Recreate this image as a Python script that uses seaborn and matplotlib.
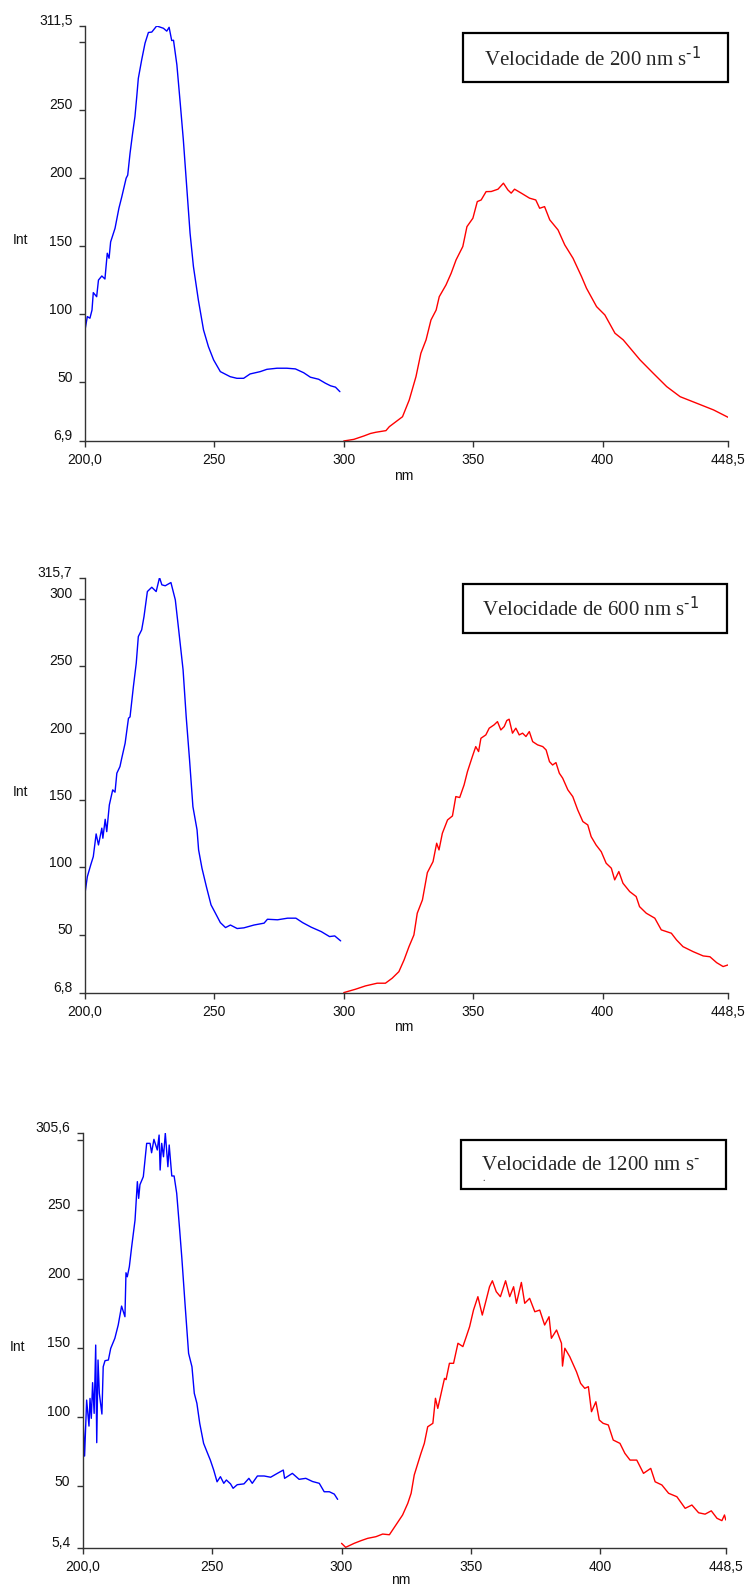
import matplotlib
matplotlib.use("Agg")
import matplotlib.pyplot as plt
import matplotlib.transforms as mtransforms
from matplotlib.patches import Rectangle
import pandas as pd
import seaborn as sns

# ---------------------------
# Data
# ---------------------------
# Panel 1 - 200 nm/s
blue_nm_1 = [200.0, 200.9, 201.9, 202.7, 203.2, 204.5, 205.2, 206.5, 207.7, 208.6, 209.3, 209.9,
             211.6, 213.1, 214.2, 215.9, 216.5, 217.4, 218.4, 219.3, 220.0, 220.6, 221.9, 223.2,
             224.5, 225.8, 227.7, 230.3, 231.6, 232.5, 233.5, 234.2, 235.5, 236.8, 238.0, 239.3,
             240.6, 241.9, 243.8, 245.8, 247.7, 249.7, 252.3, 256.1, 258.7, 261.3, 263.8, 267.7,
             270.3, 274.2, 278.0, 281.3, 284.5, 287.1, 290.3, 292.9, 294.9, 296.8, 298.5]
blue_int_1 = [88.4, 98.2, 97.0, 103.0, 115.8, 112.8, 125.0, 128.0, 125.8, 144.7, 141.0, 153.0,
              163.0, 177.7, 186.0, 199.8, 202.0, 218.0, 232.8, 245.0, 259.7, 273.0, 286.6, 298.9,
              306.7, 307.0, 311.5, 309.8, 307.7, 310.5, 300.8, 301.0, 283.0, 254.8, 227.9, 193.6,
              159.4, 134.9, 110.4, 88.4, 76.1, 66.4, 57.8, 54.1, 52.9, 52.9, 56.1, 57.8,
              59.5, 60.3, 60.3, 59.8, 57.0, 53.7, 52.2, 49.3, 47.4, 46.4, 43.1]
red_nm_1 = [300.0, 303.9, 307.8, 310.3, 312.4, 316.3, 317.6, 322.7, 325.3, 327.9, 329.8, 331.8,
            333.7, 335.7, 336.9, 339.5, 341.5, 343.4, 346.0, 347.6, 349.9, 351.6, 353.1, 355.0,
            357.0, 359.6, 361.7, 363.4, 364.7, 366.0, 368.6, 371.8, 374.2, 375.7, 377.6, 379.6,
            382.8, 385.4, 388.6, 391.9, 393.8, 397.7, 400.9, 404.8, 408.0, 414.5, 419.6, 424.8,
            430.0, 436.4, 442.9, 448.5]
red_int_1 = [6.9, 8.1, 10.6, 12.4, 13.3, 14.5, 17.4, 24.7, 37.0, 54.1, 71.3, 81.1,
             95.7, 103.0, 112.8, 121.4, 130.0, 139.8, 149.6, 164.2, 170.4, 182.6, 183.8, 189.9,
             190.0, 191.7, 196.1, 191.2, 188.8, 191.7, 188.8, 185.1, 183.8, 177.7, 178.9, 169.2,
             161.8, 150.8, 141.0, 127.5, 119.0, 105.5, 99.4, 86.0, 81.1, 66.4, 56.6, 46.8,
             39.4, 34.6, 29.7, 24.3]

# Panel 2 - 600 nm/s
blue_nm_2 = [200.0, 200.9, 202.2, 203.2, 204.3, 205.2, 206.5, 206.9, 207.8, 208.4, 209.4, 210.7,
             211.6, 212.3, 213.5, 214.2, 215.5, 216.8, 217.4, 218.7, 219.8, 220.6, 221.9, 222.8,
             224.1, 225.8, 227.5, 228.8, 229.7, 231.0, 233.2, 234.9, 236.2, 237.9, 239.1, 240.4,
             241.7, 243.3, 243.9, 245.2, 246.9, 248.7, 250.4, 252.3, 254.3, 256.2, 258.8, 261.4,
             265.3, 269.2, 270.5, 274.4, 278.3, 281.5, 284.1, 287.4, 291.3, 294.5, 296.5, 298.8]
blue_int_2 = [80.8, 93.1, 101.8, 108.0, 124.9, 116.7, 129.2, 121.7, 135.8, 126.6, 146.5, 157.7,
              156.0, 170.1, 175.0, 181.3, 192.4, 211.0, 212.0, 234.6, 252.0, 271.8, 276.8, 286.7,
              305.3, 308.5, 305.3, 315.7, 310.3, 309.6, 312.0, 299.1, 276.8, 247.0, 212.2, 180.0,
              145.2, 127.9, 113.0, 99.4, 85.7, 72.1, 65.9, 58.9, 55.2, 57.1, 54.5, 55.0,
              57.1, 58.5, 61.4, 61.0, 62.2, 62.2, 58.9, 55.5, 52.2, 48.5, 49.0, 45.3]
red_nm_2 = [300.0, 304.5, 308.4, 312.9, 316.1, 318.7, 321.3, 323.3, 325.2, 327.1, 328.4, 330.4,
            332.3, 334.5, 335.9, 336.8, 338.1, 340.1, 342.0, 343.3, 344.8, 346.5, 347.8, 349.7,
            351.0, 352.1, 353.0, 354.9, 356.2, 358.1, 359.4, 360.7, 362.0, 363.0, 363.9, 365.2,
            366.5, 367.8, 369.1, 370.4, 371.7, 373.0, 374.9, 376.9, 378.2, 379.5, 380.7, 382.0,
            383.3, 384.6, 386.6, 388.5, 390.4, 392.4, 394.3, 395.6, 397.5, 399.5, 401.4, 403.4,
            404.7, 406.3, 407.9, 410.5, 413.0, 414.3, 416.9, 420.2, 422.7, 426.6, 428.6, 431.1,
            435.0, 438.9, 441.5, 444.1, 446.6, 448.5]
red_int_2 = [6.8, 9.3, 11.8, 13.8, 13.8, 17.5, 22.4, 31.1, 41.0, 49.7, 65.9, 75.8,
             96.1, 104.3, 118.0, 113.0, 125.4, 135.3, 138.3, 152.7, 152.0, 161.4, 171.3, 182.5,
             189.9, 186.2, 196.1, 198.6, 203.6, 206.1, 208.5, 202.3, 204.8, 209.3, 210.3, 199.9,
             203.6, 198.6, 199.9, 197.4, 201.1, 193.6, 191.2, 189.9, 187.4, 178.7, 176.2, 178.0,
             170.1, 166.4, 157.7, 152.7, 142.8, 134.1, 131.6, 122.9, 116.7, 111.7, 103.1, 99.4,
             90.7, 96.9, 88.2, 82.0, 78.3, 70.8, 65.9, 62.2, 53.5, 51.0, 46.0, 41.0,
             37.3, 34.1, 33.5, 29.1, 26.2, 27.4]

# Panel 3 - 1200 nm/s
blue_nm_3 = [200.0, 200.2, 200.7, 201.5, 202.4, 202.8, 203.3, 203.8, 204.4, 205.0, 205.4, 205.9,
             206.4, 207.4, 207.9, 208.6, 209.9, 210.8, 212.4, 213.7, 215.0, 216.3, 216.7, 217.2,
             218.0, 218.9, 220.2, 221.1, 221.6, 222.1, 223.4, 224.7, 226.0, 226.6, 227.5, 228.8,
             229.5, 229.9, 230.5, 231.2, 231.9, 232.9, 233.4, 234.4, 235.3, 236.3, 237.4, 238.3,
             239.6, 240.9, 242.2, 243.1, 244.1, 245.2, 246.7, 248.0, 249.3, 250.6, 251.9, 253.2,
             254.5, 255.5, 257.1, 258.1, 259.7, 262.3, 264.2, 265.5, 267.5, 270.1, 272.6, 275.2,
             277.5, 278.0, 281.0, 283.6, 286.2, 288.8, 291.4, 293.3, 295.3, 297.2, 298.5]
blue_int_3 = [92.9, 95.0, 71.7, 112.2, 93.4, 113.4, 99.0, 124.8, 102.6, 152.0, 81.4, 141.2,
              117.1, 102.1, 136.3, 140.7, 141.2, 149.6, 156.9, 166.5, 180.2, 172.5, 204.3, 201.4,
              208.7, 223.1, 242.4, 270.2, 258.1, 268.0, 273.8, 297.9, 297.9, 291.1, 300.8, 293.1,
              303.9, 278.6, 297.9, 288.2, 305.2, 281.0, 296.7, 274.3, 274.3, 261.8, 236.4, 214.7,
              179.7, 146.0, 136.3, 117.1, 109.9, 95.4, 80.9, 74.8, 68.8, 61.6, 53.1, 56.8,
              52.0, 54.4, 51.6, 48.4, 51.0, 51.6, 55.6, 52.0, 57.3, 57.3, 56.4, 59.2,
              61.6, 55.6, 59.2, 54.9, 55.6, 53.3, 52.0, 45.9, 45.9, 44.2, 40.4]
red_nm_3 = [300.0, 301.6, 304.9, 307.5, 310.1, 313.3, 315.9, 318.5, 321.0, 323.6, 325.6, 326.9,
            328.1, 329.5, 330.7, 332.0, 333.3, 335.3, 336.3, 337.2, 338.5, 339.8, 340.4, 341.7,
            343.3, 345.0, 346.9, 348.2, 349.5, 351.0, 352.7, 354.4, 355.9, 357.2, 358.3, 359.8,
            361.4, 363.4, 365.0, 366.5, 367.6, 369.5, 370.8, 372.7, 374.7, 376.6, 378.5, 380.2,
            381.1, 383.1, 385.0, 385.4, 386.3, 388.2, 390.8, 392.4, 394.0, 395.4, 396.6, 398.3,
            399.6, 401.1, 403.1, 405.0, 407.6, 409.5, 411.5, 414.1, 416.7, 419.5, 421.2, 423.8,
            426.4, 429.6, 432.8, 435.4, 438.0, 440.5, 442.9, 445.1, 447.0, 448.0, 448.5]
red_int_3 = [8.6, 5.7, 8.6, 10.5, 12.2, 13.4, 15.3, 14.8, 21.8, 29.1, 37.5, 44.8,
             58.0, 66.5, 73.7, 80.9, 92.9, 95.4, 113.5, 106.2, 117.1, 127.9, 127.0, 138.8,
             138.8, 153.3, 150.9, 158.0, 165.3, 177.3, 187.0, 173.7, 184.6, 194.2, 198.5, 190.6,
             187.0, 198.5, 187.0, 194.2, 182.2, 197.3, 182.2, 185.8, 176.1, 177.3, 166.5, 172.5,
             156.9, 162.9, 153.3, 136.8, 149.7, 143.6, 132.7, 124.3, 120.7, 121.9, 103.8, 111.0,
             97.8, 95.4, 94.2, 83.3, 80.9, 73.7, 68.8, 68.8, 59.2, 62.8, 53.1, 50.8,
             44.8, 42.3, 33.9, 36.3, 30.7, 29.7, 32.1, 26.7, 25.0, 29.1, 25.5]

x_ticks = [200, 250, 300, 350, 400, 448.5]
x_labels = ["200,0", "250", "300", "350", "400", "448,5"]

y_ticks_1 = [6.9, 50, 100, 150, 200, 250, 300, 311.5]
y_labels_1 = ["6,9", "50", "100", "150", "200", "250", "", "311,5"]
y_ticks_2 = [6.8, 50, 100, 150, 200, 250, 300, 315.7]
y_labels_2 = ["6,8", "50", "100", "150", "200", "250", "300", "315,7"]
y_ticks_3 = [5.4, 50, 100, 150, 200, 250, 300, 305.6]
y_labels_3 = ["5,4", "50", "100", "150", "200", "250", "", "305,6"]

titles = [r"Velocidade de 200 nm s$^{\text{-1}}$",
          r"Velocidade de 600 nm s$^{\text{-1}}$",
          r"Velocidade de 1200 nm s$^{\text{-}}$"]

# ---------------------------
# Style
# ---------------------------
sns.set_style("ticks")
plt.rcParams["font.family"] = ["Liberation Sans", "DejaVu Sans"]
plt.rcParams["mathtext.default"] = "regular"

fig = plt.figure(figsize=(7.49, 15.92), dpi=100)

panels = [
    dict(rect=[0.1135, 0.7230, 0.8585, 0.2607], blue=(blue_nm_1, blue_int_1), red=(red_nm_1, red_int_1),
         yt=y_ticks_1, yl=y_labels_1, title=titles[0], box=(0.5874, 0.8658, 0.4131, 0.1166),
         tpos=(0.621, 0.906), nm_y=-0.084),
    dict(rect=[0.1135, 0.3765, 0.8585, 0.2607], blue=(blue_nm_2, blue_int_2), red=(red_nm_2, red_int_2),
         yt=y_ticks_2, yl=y_labels_2, title=titles[1], box=(0.5874, 0.8675, 0.4115, 0.1165),
         tpos=(0.618, 0.910), nm_y=-0.082),
    dict(rect=[0.1105, 0.0278, 0.8585, 0.2607], blue=(blue_nm_3, blue_int_3), red=(red_nm_3, red_int_3),
         yt=y_ticks_3, yl=y_labels_3, title=titles[2], box=(0.588, 0.8636, 0.4125, 0.1188),
         tpos=(0.6194, 0.910), nm_y=-0.078),
]

for i, p in enumerate(panels):
    ax = fig.add_axes(p["rect"])
    blue_df = pd.DataFrame({"nm": p["blue"][0], "Int": p["blue"][1]})
    red_df = pd.DataFrame({"nm": p["red"][0], "Int": p["red"][1]})
    sns.lineplot(data=blue_df, x="nm", y="Int", ax=ax, color="#0000ff", lw=1.0,
                 sort=False, estimator=None)
    sns.lineplot(data=red_df, x="nm", y="Int", ax=ax, color="#ff0000", lw=1.0,
                 sort=False, estimator=None)

    ax.set_xlim(200, 448.5)
    ax.set_ylim(p["yt"][0], p["yt"][-1])
    ax.set_xticks(x_ticks)
    ax.set_xticklabels(x_labels)
    ax.set_yticks(p["yt"])
    ax.set_yticklabels(p["yl"])
    ax.set_xlabel("")
    ax.set_ylabel("")
    sns.despine(ax=ax)
    for s in ["left", "bottom"]:
        ax.spines[s].set_color("#333333")
        ax.spines[s].set_linewidth(1.0)
    ax.tick_params(axis="both", direction="out", length=4, width=1.0, color="#333333",
                   labelsize=10, labelcolor="#111111")
    ax.tick_params(axis="y", pad=5)
    ax.tick_params(axis="x", pad=5)

    # y tick labels sit a little above their ticks
    shift = mtransforms.ScaledTranslation(0, 6 / 100, fig.dpi_scale_trans)
    for lab in ax.get_yticklabels():
        lab.set_transform(lab.get_transform() + shift)

    ax.text(-0.101, 0.484, "Int", transform=ax.transAxes, ha="center", va="center",
            fontsize=10, color="#111111")
    ax.text(0.495, p["nm_y"], "nm", transform=ax.transAxes, ha="center", va="center",
            fontsize=10, color="#111111")

    bx, by, bw, bh = p["box"]
    ax.add_patch(Rectangle((bx, by), bw, bh, transform=ax.transAxes, fill=True,
                           facecolor="white", edgecolor="black", lw=1.6, clip_on=False, zorder=5))
    ax.text(p["tpos"][0], p["tpos"][1], p["title"], transform=ax.transAxes, ha="left",
            va="baseline", fontsize=15, family=["Liberation Serif", "DejaVu Serif"], zorder=6)
    if i == 2:
        ax.text(0.6236, 0.884, ".", transform=ax.transAxes, ha="center", va="baseline",
                fontsize=7, family=["Liberation Serif"], zorder=6)

fig.savefig("out.png", dpi=100)
